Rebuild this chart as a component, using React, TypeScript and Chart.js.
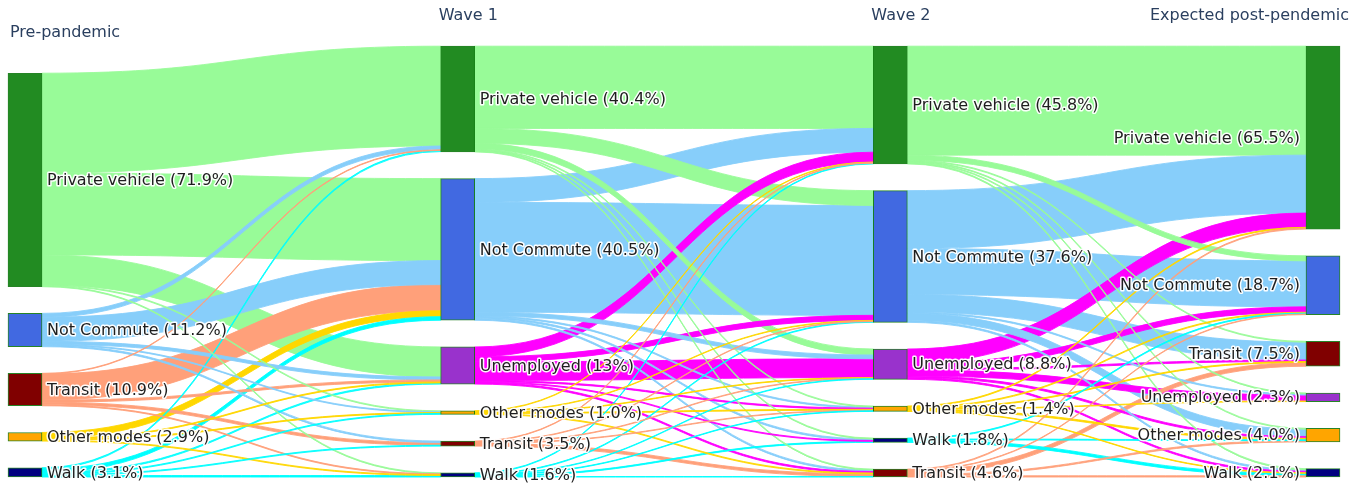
import React, { useEffect, useRef } from 'react';
import { Chart, registerables } from 'chart.js';

Chart.register(...registerables);

// ---------- DATA ----------
const stages = ['Pre-pandemic', 'Wave 1', 'Wave 2', 'Expected post-pendemic'];

const nodeLabels = [
  'Private vehicle (71.9%)', 'Not Commute (11.2%)', 'Transit (10.9%)', 'Other modes (2.9%)', 'Walk (3.1%)',
  'Private vehicle (40.4%)', 'Not Commute (40.5%)', 'Unemployed (13%)', 'Other modes (1.0%)', 'Transit (3.5%)', 'Walk (1.6%)',
  'Private vehicle (45.8%)', 'Not Commute (37.6%)', 'Unemployed (8.8%)', 'Other modes (1.4%)', 'Walk (1.8%)', 'Transit (4.6%)',
  'Private vehicle (65.5%)', 'Not Commute (18.7%)', 'Transit (7.5%)', 'Unemployed (2.3%)', 'Other modes (4.0%)', 'Walk (2.1%)',
];
const nodeStage = [0, 0, 0, 0, 0, 1, 1, 1, 1, 1, 1, 2, 2, 2, 2, 2, 2, 3, 3, 3, 3, 3, 3];
const nodeMode = [
  'pv', 'nc', 'tr', 'ot', 'wk',
  'pv', 'nc', 'un', 'ot', 'tr', 'wk',
  'pv', 'nc', 'un', 'ot', 'wk', 'tr',
  'pv', 'nc', 'tr', 'un', 'ot', 'wk',
];

const linkSource = [
  0, 0, 0, 0, 0,
  1, 1, 1, 1, 1,
  2, 2, 2, 2, 2,
  3, 3, 3, 3,
  4, 4, 4, 4, 4, 4,
  5, 5, 5, 5, 5, 5,
  6, 6, 6, 6, 6, 6,
  7, 7, 7, 7, 7, 7,
  8, 8, 8, 8, 8,
  9, 9, 9, 9, 9,
  10, 10, 10, 10, 10, 10,
  11, 11, 11, 11, 11, 11,
  12, 12, 12, 12, 12, 12,
  13, 13, 13, 13, 13, 13,
  14, 14, 14, 14, 14, 14,
  15, 15, 15,
  16, 16, 16, 16, 16,
];
const linkTarget = [
  5, 6, 7, 8, 10,
  5, 6, 7, 8, 9,
  5, 6, 7, 9, 10,
  6, 7, 8, 10,
  5, 6, 7, 8, 9, 10,
  11, 12, 13, 14, 15, 16,
  11, 12, 13, 14, 15, 16,
  11, 12, 13, 14, 15, 16,
  11, 12, 13, 14, 16,
  11, 12, 13, 14, 16,
  11, 12, 13, 14, 15, 16,
  17, 18, 19, 20, 21, 22,
  17, 18, 19, 20, 21, 22,
  17, 18, 19, 20, 21, 22,
  17, 18, 19, 20, 21, 22,
  18, 21, 22,
  17, 18, 19, 21, 22,
];
const linkValue = [
  33.6, 27.6, 10.1, 0.3, 0.3,
  1.3, 8.1, 1.0, 0.3, 0.5,
  0.2, 8.8, 0.7, 0.9, 0.3,
  2.0, 0.3, 0.3, 0.3,
  0.4, 1.2, 0.4, 0.3, 0.3, 0.5,
  27.7, 5.0, 2.0, 0.3, 0.3, 0.3,
  8.0, 37.0, 1.3, 0.4, 0.5, 0.5,
  3.3, 1.7, 6.3, 0.4, 0.3, 0.5,
  0.2, 0.2, 0.2, 0.3, 0.3,
  0.2, 0.2, 0.2, 0.2, 0.9,
  0.25, 0.25, 0.2, 0.2, 0.35, 0.15,
  36.7, 1.7, 0.3, 0.3, 0.3, 0.35,
  19.5, 15.5, 6.0, 0.4, 2.45, 0.5,
  4.8, 1.8, 0.5, 2.0, 0.6, 0.5,
  0.3, 0.3, 0.3, 0.2, 0.5, 0.2,
  0.3, 0.3, 0.85,
  0.3, 0.2, 1.3, 0.45, 0.4,
];

const modeNodeColor: Record<string, string> = {
  pv: '#228B22', nc: '#4169E1', tr: '#800000', ot: '#FFA500', wk: '#000080', un: '#9932CC',
};
const modeLinkColor: Record<string, string> = {
  pv: '#98FB98', nc: '#87CEFA', tr: '#FFA07A', ot: '#FFD700', wk: '#00FFFF', un: '#FF00FF',
};

// ---------- LAYOUT SETTINGS ----------
const NODE_W = 34;
const NODE_PAD = 9.0; // vertical gap between nodes, in value units
const Y_MAX = 145.5;

type NodeBox = { bottom: number; top: number; size: number };

function computeLayout() {
  const n = nodeLabels.length;
  const inSum = new Array(n).fill(0);
  const outSum = new Array(n).fill(0);
  linkValue.forEach((v, i) => {
    outSum[linkSource[i]] += v;
    inSum[linkTarget[i]] += v;
  });
  const boxes: NodeBox[] = [];
  for (let i = 0; i < n; i++) boxes.push({ bottom: 0, top: 0, size: Math.max(inSum[i], outSum[i]) });
  for (let s = 0; s < stages.length; s++) {
    const ids = nodeStage.map((st, i) => (st === s ? i : -1)).filter((i) => i >= 0);
    let y = 0;
    for (let k = ids.length - 1; k >= 0; k--) {
      const b = boxes[ids[k]];
      b.bottom = y;
      b.top = y + b.size;
      y = b.top + NODE_PAD;
    }
  }
  const srcOff = new Array(linkValue.length).fill(0);
  const tgtOff = new Array(linkValue.length).fill(0);
  for (let i = 0; i < n; i++) {
    const outs = linkSource.map((s, li) => (s === i ? li : -1)).filter((li) => li >= 0);
    outs.sort((a, b) => boxes[linkTarget[b]].top - boxes[linkTarget[a]].top);
    let off = 0;
    outs.forEach((li) => { srcOff[li] = off; off += linkValue[li]; });
    const ins = linkTarget.map((t, li) => (t === i ? li : -1)).filter((li) => li >= 0);
    ins.sort((a, b) => boxes[linkSource[b]].top - boxes[linkSource[a]].top);
    off = 0;
    ins.forEach((li) => { tgtOff[li] = off; off += linkValue[li]; });
  }
  // draw wide bands first so thin flows stay visible on top
  const drawOrder = linkValue.map((_, i) => i).sort((a, b) => linkValue[b] - linkValue[a]);
  return { boxes, srcOff, tgtOff, drawOrder };
}

const FONT = '"DejaVu Sans", Verdana, sans-serif';

export default function App() {
  const ref = useRef<HTMLCanvasElement | null>(null);

  useEffect(() => {
    if (!ref.current) return;
    const { boxes, srcOff, tgtOff, drawOrder } = computeLayout();

    const linksPlugin = {
      id: 'sankeyLinks',
      beforeDatasetsDraw(chart: any) {
        const { ctx } = chart;
        const xs = chart.scales.x;
        const ys = chart.scales.y;
        ctx.save();
        drawOrder.forEach((li) => {
          const v = linkValue[li];
          const s = linkSource[li];
          const t = linkTarget[li];
          const x0 = xs.getPixelForValue(nodeStage[s]) + NODE_W / 2;
          const x1 = xs.getPixelForValue(nodeStage[t]) - NODE_W / 2;
          const s0 = ys.getPixelForValue(boxes[s].top - srcOff[li]);
          const s1 = ys.getPixelForValue(boxes[s].top - srcOff[li] - v);
          const t0 = ys.getPixelForValue(boxes[t].top - tgtOff[li]);
          const t1 = ys.getPixelForValue(boxes[t].top - tgtOff[li] - v);
          const xm = (x0 + x1) / 2;
          ctx.beginPath();
          ctx.moveTo(x0, s0);
          ctx.bezierCurveTo(xm, s0, xm, t0, x1, t0);
          ctx.lineTo(x1, t1);
          ctx.bezierCurveTo(xm, t1, xm, s1, x0, s1);
          ctx.closePath();
          const col = modeLinkColor[nodeMode[s]];
          ctx.fillStyle = col;
          ctx.fill();
          ctx.strokeStyle = col;
          ctx.lineWidth = 0.9;
          ctx.stroke();
        });
        ctx.restore();
      },
      afterDatasetsDraw(chart: any) {
        const { ctx } = chart;
        const xs = chart.scales.x;
        const ys = chart.scales.y;
        ctx.save();
        ctx.font = `16px ${FONT}`;
        ctx.textBaseline = 'middle';
        ctx.lineJoin = 'round';
        nodeLabels.forEach((label, i) => {
          const st = nodeStage[i];
          const cx = xs.getPixelForValue(st);
          const cy = ys.getPixelForValue((boxes[i].top + boxes[i].bottom) / 2);
          const last = st === stages.length - 1;
          const x = last ? cx - NODE_W / 2 - 6 : cx + NODE_W / 2 + 5;
          ctx.textAlign = last ? 'right' : 'left';
          ctx.strokeStyle = 'rgba(255,255,255,0.95)';
          ctx.lineWidth = 3;
          ctx.strokeText(label, x, cy + 1);
          ctx.fillStyle = '#1e1e1e';
          ctx.fillText(label, x, cy + 1);
        });
        ctx.fillStyle = '#2a3f5f';
        ctx.font = `16px ${FONT}`;
        stages.forEach((name, s) => {
          const cx = xs.getPixelForValue(s);
          if (s === 0) {
            ctx.textAlign = 'left';
            ctx.fillText(name, cx - NODE_W / 2 + 2, 33);
          } else if (s === stages.length - 1) {
            ctx.textAlign = 'right';
            ctx.fillText(name, cx + NODE_W / 2 + 9, 16);
          } else {
            ctx.textAlign = 'left';
            ctx.fillText(name, cx - NODE_W / 2 - 2, 16);
          }
        });
        ctx.restore();
      },
    };

    const chart = new Chart(ref.current, {
      type: 'bar',
      data: {
        datasets: [
          {
            data: boxes.map((b, i) => ({ x: nodeStage[i], y: [b.bottom, b.top] })) as any,
            backgroundColor: nodeMode.map((m) => modeNodeColor[m]),
            borderColor: 'rgba(0,110,0,0.85)',
            borderWidth: 1,
            borderSkipped: false,
            barThickness: NODE_W,
            clip: false,
          } as any,
        ],
      },
      options: {
        animation: false,
        responsive: true,
        maintainAspectRatio: false,
        layout: { padding: { left: 25, right: 40, top: 45, bottom: 7 } },
        scales: {
          x: { type: 'linear', min: 0, max: stages.length - 1, display: false, offset: false } as any,
          y: { type: 'linear', min: 0, max: Y_MAX, display: false },
        },
        plugins: { legend: { display: false }, tooltip: { enabled: false } },
      },
      plugins: [linksPlugin],
    });
    return () => chart.destroy();
  }, []);

  return (
    <div style={{ position: 'fixed', left: 0, top: 0, width: 1363, height: 484, background: '#fff' }}>
      <canvas ref={ref} />
    </div>
  );
}
